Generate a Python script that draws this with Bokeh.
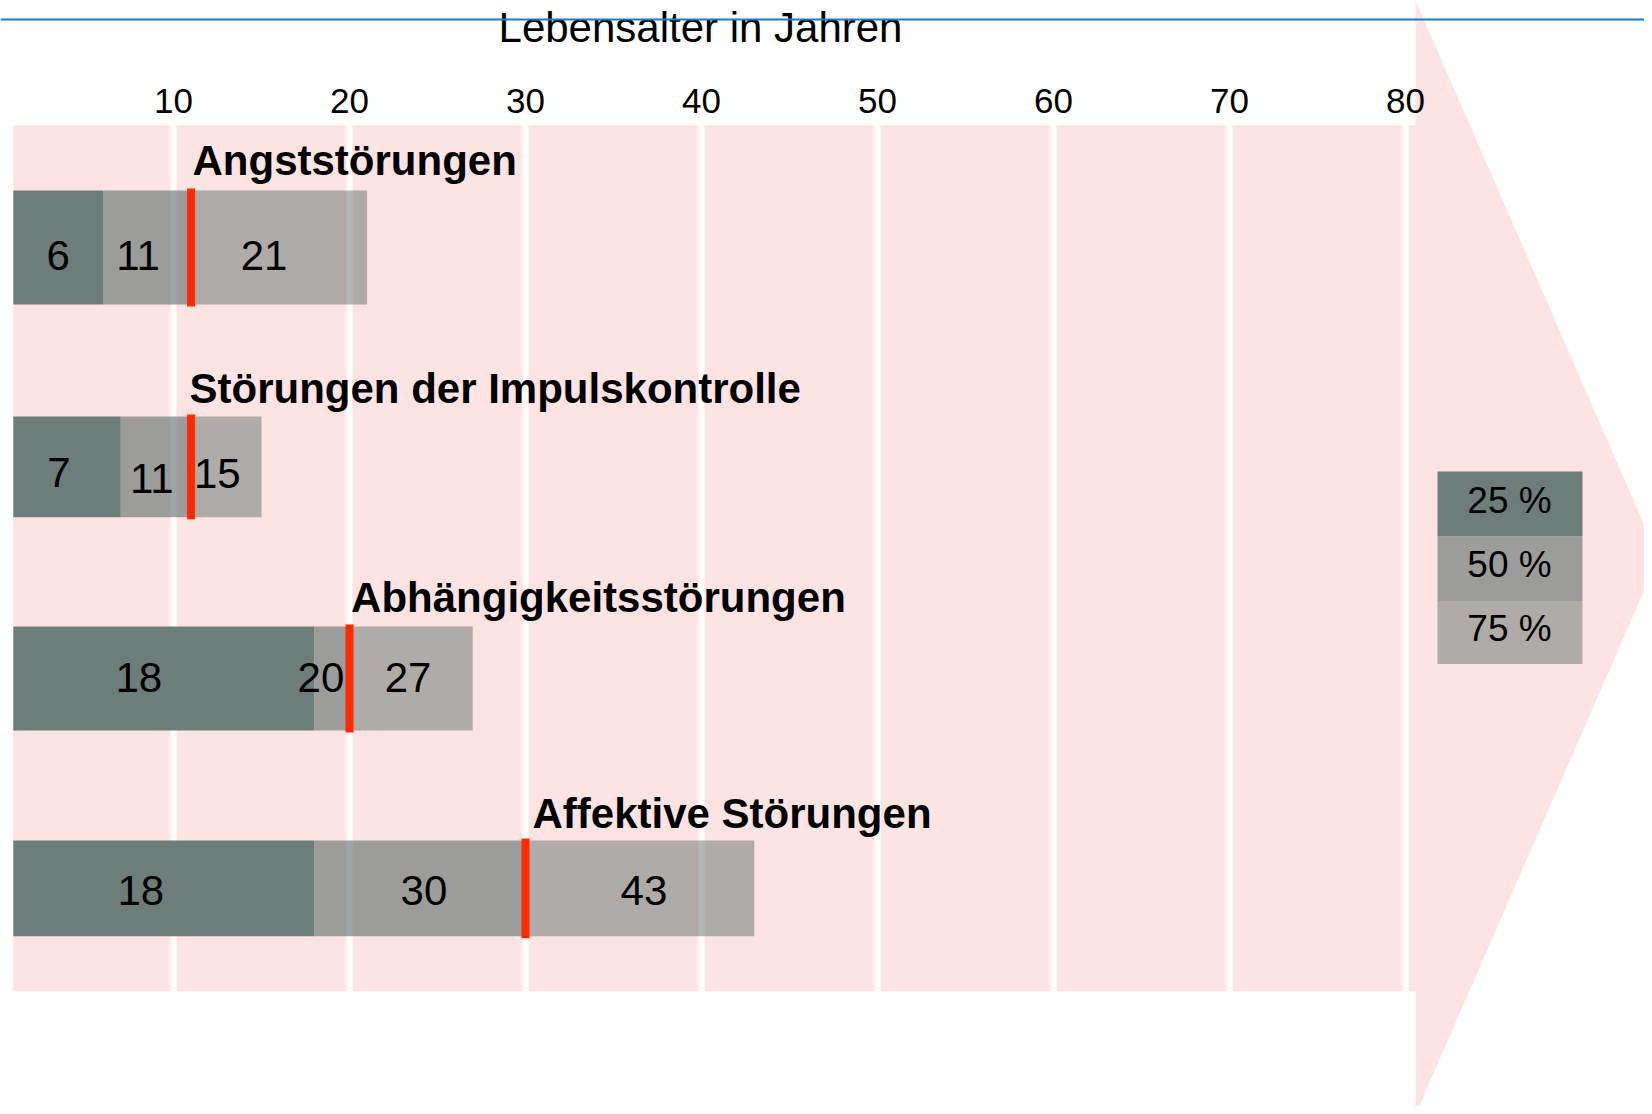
import numpy as np
from bokeh.plotting import figure
from bokeh.models import Range1d, LinearAxis, FixedTicker, ColumnDataSource
from bokeh.core.properties import value
from bokeh.embed import file_html
from bokeh.resources import INLINE

# ---------------- data ----------------
categories = ["Angststörungen", "Störungen der Impulskontrolle",
              "Abhängigkeitsstörungen", "Affektive Störungen"]
q25 = [6, 7, 18, 18]          # 25 % of cases have started by this age
median = [11, 11, 20, 30]     # 50 %
q75 = [21, 15, 27, 43]        # 75 %
age_ticks = [10, 20, 30, 40, 50, 60, 70, 80]
legend_labels = ["25 %", "50 %", "75 %"]
axis_title = "Lebensalter in Jahren"

# ---------------- layout / style ----------------
W, H = 1644, 1106
PX0, PX_PER_YEAR = -3.0, 17.6          # horizontal scale of the picture


def fx(px):
    """picture pixel column -> age units (for decorations only)"""
    return (px - PX0) / PX_PER_YEAR


FONT = value("Liberation Sans")
PINK = "#FEE3E3"
BASE = "#647672"
ALPHAS = [0.94, 0.64, 0.515]
RED = "#FF2A00"
BLUE = "#1E78CC"

row_y = [247, 466.4, 678, 887.9]
row_h = [114, 100.7, 104, 95.7]
title_dx = [1.4, -1.6, 1.6, 7]
title_dy = [-30, -28, -29.5, -27]
label_dx = [0, -9, -15, -8, -4, -9, -25, -11, -3, -23, 4, 4]
label_dy = [8, 8, 8, 5.6, 11.6, 6.6, -1, -1, -1, 2.2, 2.2, 2.2]

area_top, area_bottom = 125, 990.7
x_start = fx(12.8)

p = figure(width=W, height=H, x_range=Range1d(fx(0), fx(W)),
           y_range=Range1d(H, 0), min_border=0, toolbar_location=None,
           output_backend="svg", x_axis_location=None, y_axis_location=None,
           title=None, outline_line_color=None,
           background_fill_color="white", border_fill_color="white")
p.grid.visible = False
for r in list(p.center):
    if r.__class__.__name__ == "Grid":
        r.visible = False

# big arrow in the background
p.patch(x=[fx(1415), fx(1658), fx(1415)], y=[0, 557, 1114],
        fill_color=PINK, line_color=None)

# plot area
p.quad(left=[x_start], right=[fx(1416)], top=[area_top], bottom=[area_bottom],
       fill_color=PINK, line_color=None)
p.segment(x0=age_ticks, y0=area_top, x1=age_ticks, y1=area_bottom,
          line_color="white", line_width=6)

# axis with tick labels
ax = LinearAxis(ticker=FixedTicker(ticks=age_ticks), fixed_location=area_top)
ax.axis_line_color = None
ax.major_tick_line_color = None
ax.minor_tick_line_color = None
ax.major_label_text_font = "Liberation Sans"
ax.major_label_text_font_size = "35px"
ax.major_label_text_color = "black"
ax.major_label_standoff = 7
p.add_layout(ax, "above")

# axis title + blue rule
p.text(x=[fx(700)], y=[26.7], text=[axis_title], text_font=FONT,
       text_font_size="42px", text_align="center", text_baseline="middle",
       text_color="black")
p.segment(x0=[fx(0)], y0=[19], x1=[fx(1652)], y1=[19], line_color=BLUE, line_width=2)

# bars
n = len(categories)
src = ColumnDataSource(dict(
    y=row_y, h=row_h, start=[x_start] * n, q25=q25, med=median, q75=q75,
    top=[y - h / 2 for y, h in zip(row_y, row_h)],
    top_r=[y - h / 2 - 2 for y, h in zip(row_y, row_h)],
    bot_r=[y + h / 2 + 2 for y, h in zip(row_y, row_h)],
    cat=categories, tdx=title_dx, tdy=title_dy,
))
p.hbar(y="y", height="h", left="start", right="q25", source=src,
       fill_color=BASE, fill_alpha=ALPHAS[0], line_color=None)
p.hbar(y="y", height="h", left="q25", right="med", source=src,
       fill_color=BASE, fill_alpha=ALPHAS[1], line_color=None)
p.hbar(y="y", height="h", left="med", right="q75", source=src,
       fill_color=BASE, fill_alpha=ALPHAS[2], line_color=None)
p.segment(x0="med", y0="top_r", x1="med", y1="bot_r", source=src,
          line_color=RED, line_width=8)

# category titles
p.text(x="med", y="top", text="cat", x_offset="tdx", y_offset="tdy", source=src,
       text_font=FONT, text_font_style="bold", text_font_size="42px",
       text_align="left", text_baseline="middle", text_color="black")

# value labels
lx, ly, lt = [], [], []
for i in range(n):
    bounds = [x_start, q25[i], median[i], q75[i]]
    vals = [q25[i], median[i], q75[i]]
    for k in range(3):
        lx.append((bounds[k] + bounds[k + 1]) / 2)
        ly.append(row_y[i])
        lt.append(str(vals[k]))
lsrc = ColumnDataSource(dict(x=lx, y=ly, t=lt, dx=label_dx, dy=label_dy))
p.text(x="x", y="y", text="t", x_offset="dx", y_offset="dy", source=lsrc,
       text_font=FONT, text_font_size="42px", text_align="center",
       text_baseline="middle", text_color="black")

# legend
leg_top = [471, 535.7, 600.4]
leg_bot = [535.7, 600.4, 663.6]
gsrc = ColumnDataSource(dict(top=leg_top, bot=leg_bot, a=ALPHAS,
                             lab=legend_labels,
                             ty=[(t + b) / 2 - 3.7 for t, b in zip(leg_top, leg_bot)]))
p.quad(left=fx(1437), right=fx(1582), top="top", bottom="bot", source=gsrc,
       fill_color=BASE, fill_alpha="a", line_color=None)
p.text(x=fx(1509), y="ty", text="lab", source=gsrc, text_font=FONT,
       text_font_size="37px", text_align="center", text_baseline="middle",
       text_color="black")

open("out.html", "w").write(file_html(p, INLINE))
